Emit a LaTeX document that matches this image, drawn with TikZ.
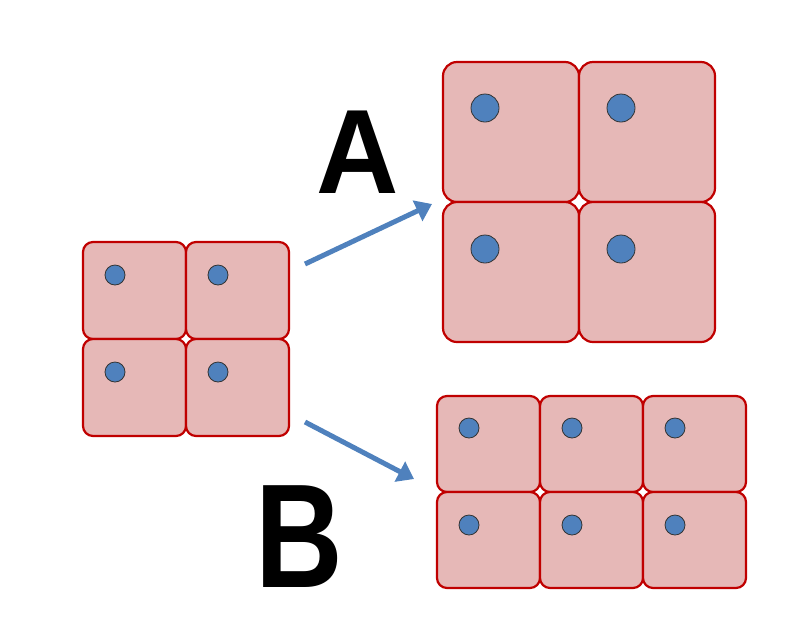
\documentclass[tikz,border=0pt]{standalone}
\usepackage{fontspec}
\setmainfont{Liberation Sans}
\usetikzlibrary{arrows.meta}
\definecolor{cellfill}{RGB}{230,184,183}
\definecolor{cellline}{RGB}{192,0,0}
\definecolor{nucleus}{RGB}{79,129,189}
\tikzset{
  cell/.style={draw=cellline, fill=cellfill, line width=2.2pt, rounded corners=10pt},
  dot/.style={circle, draw=black!80, fill=nucleus, line width=0.8pt, inner sep=0pt},
  growth/.style={draw=nucleus, line width=5pt, -{Triangle[length=16pt,width=22pt]}},
  letter/.style={font=\bfseries\fontsize{120}{120}\selectfont}
}
\begin{document}
\begin{tikzpicture}[x=1pt,y=-1pt]
		\useasboundingbox (0,0) rectangle (808,630);
		% small cells
		\foreach \i in {0,1} \foreach \j in {0,1} {
			\draw[cell] (83+103*\i,242+97*\j) rectangle ++(103,97);
			\node[dot, minimum size=20pt] (s\i\j) at (115+103*\i,275+97*\j) {};
		}
		% grown cells (A)
		\foreach \i in {0,1} \foreach \j in {0,1} {
			\draw[cell, rounded corners=14pt] (443+136*\i,62+140*\j) rectangle ++(136,140);
			\node[dot, minimum size=28pt] (a\i\j) at (485+136*\i,108+141*\j) {};
		}
		% divided cells (B)
		\foreach \i in {0,1,2} \foreach \j in {0,1} {
			\draw[cell] (437+103*\i,396+96*\j) rectangle ++(103,96);
			\node[dot, minimum size=20pt] (b\i\j) at (469+103*\i,428+97*\j) {};
		}
		\coordinate (startA) at (305,264);
		\coordinate (endA) at (432,204);
		\coordinate (startB) at (305,422);
		\coordinate (endB) at (414,479);
		\draw[growth] (startA) -- (endA);
		\draw[growth] (startB) -- (endB);
		\node[letter, xscale=0.95] (labelA) at (358,152) {A};
		\node[letter, font=\bfseries\fontsize{148}{148}\selectfont, xscale=0.82] (labelB) at (299,537) {B};
	\end{tikzpicture}
\end{document}
